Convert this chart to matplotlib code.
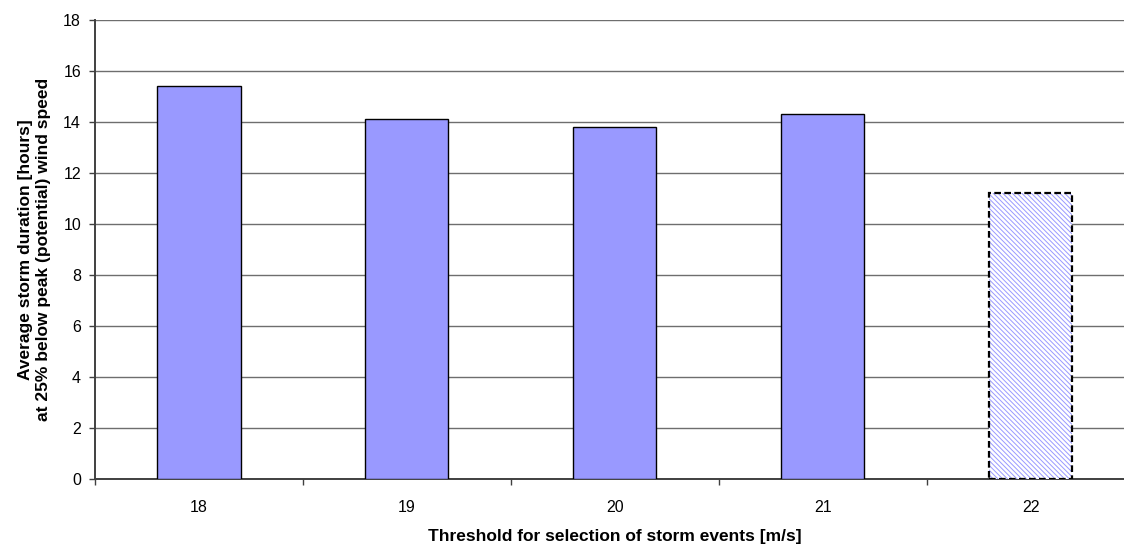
import numpy as np
import matplotlib
matplotlib.use('Agg')
import matplotlib.pyplot as plt

plt.rcParams['font.family'] = ['Liberation Sans', 'DejaVu Sans']
plt.rcParams['hatch.linewidth'] = 0.7

# data
thresholds = ['18', '19', '20', '21', '22']
durations = [15.4, 14.1, 13.8, 14.3, 11.2]
hatched = [False, False, False, False, True]   # last bar drawn as tentative

BAR_COLOR = '#9999FF'

fig = plt.figure(figsize=(11.24, 5.45), dpi=100)
# plot area runs a little past the right edge of the picture, as in the reference
ax = fig.add_axes([0.0845, 0.1211, 0.9249, 0.8422])

x = np.arange(len(thresholds))
for xi, val, h in zip(x, durations, hatched):
    if h:
        ax.bar(xi, val, width=0.40, color='white', edgecolor=BAR_COLOR,
               hatch='\\\\\\\\\\\\\\', linewidth=0, zorder=3)
        ax.bar(xi, val, width=0.40, fill=False, edgecolor='black',
               linestyle=(0, (3, 1.5)), linewidth=1.6, zorder=4)
    else:
        ax.bar(xi, val, width=0.40, color=BAR_COLOR, edgecolor='black',
               linewidth=1.0, zorder=3)

ax.set_xlim(-0.5, len(thresholds) - 0.5)
ax.set_ylim(0, 18)
ax.set_yticks(np.arange(0, 19, 2))
ax.yaxis.grid(True, color='#6e6e6e', linewidth=1.0, zorder=0)
ax.set_axisbelow(True)

ax.set_xticks(x)
ax.set_xticklabels(thresholds)
ax.set_xticks(np.arange(-0.5, len(thresholds), 1), minor=True)
ax.tick_params(axis='x', which='major', length=0, pad=15, labelsize=11.5)
ax.tick_params(axis='x', which='minor', length=4, width=1.0,
               direction='out', color='#404040')
ax.tick_params(axis='y', length=4, width=1.0, direction='out', pad=6,
               labelsize=11.5, color='#404040')

for side in ('top', 'right'):
    ax.spines[side].set_visible(False)
for side in ('left', 'bottom'):
    ax.spines[side].set_color('#404040')
    ax.spines[side].set_linewidth(1.4)

ax.set_xlabel('Threshold for selection of storm events [m/s]',
              fontsize=12.5, fontweight='bold', labelpad=10)
ax.set_ylabel('Average storm duration [hours]\nat 25% below peak (potential) wind speed',
              fontsize=12.5, fontweight='bold', labelpad=9)

fig.savefig('out.png', dpi=100)
